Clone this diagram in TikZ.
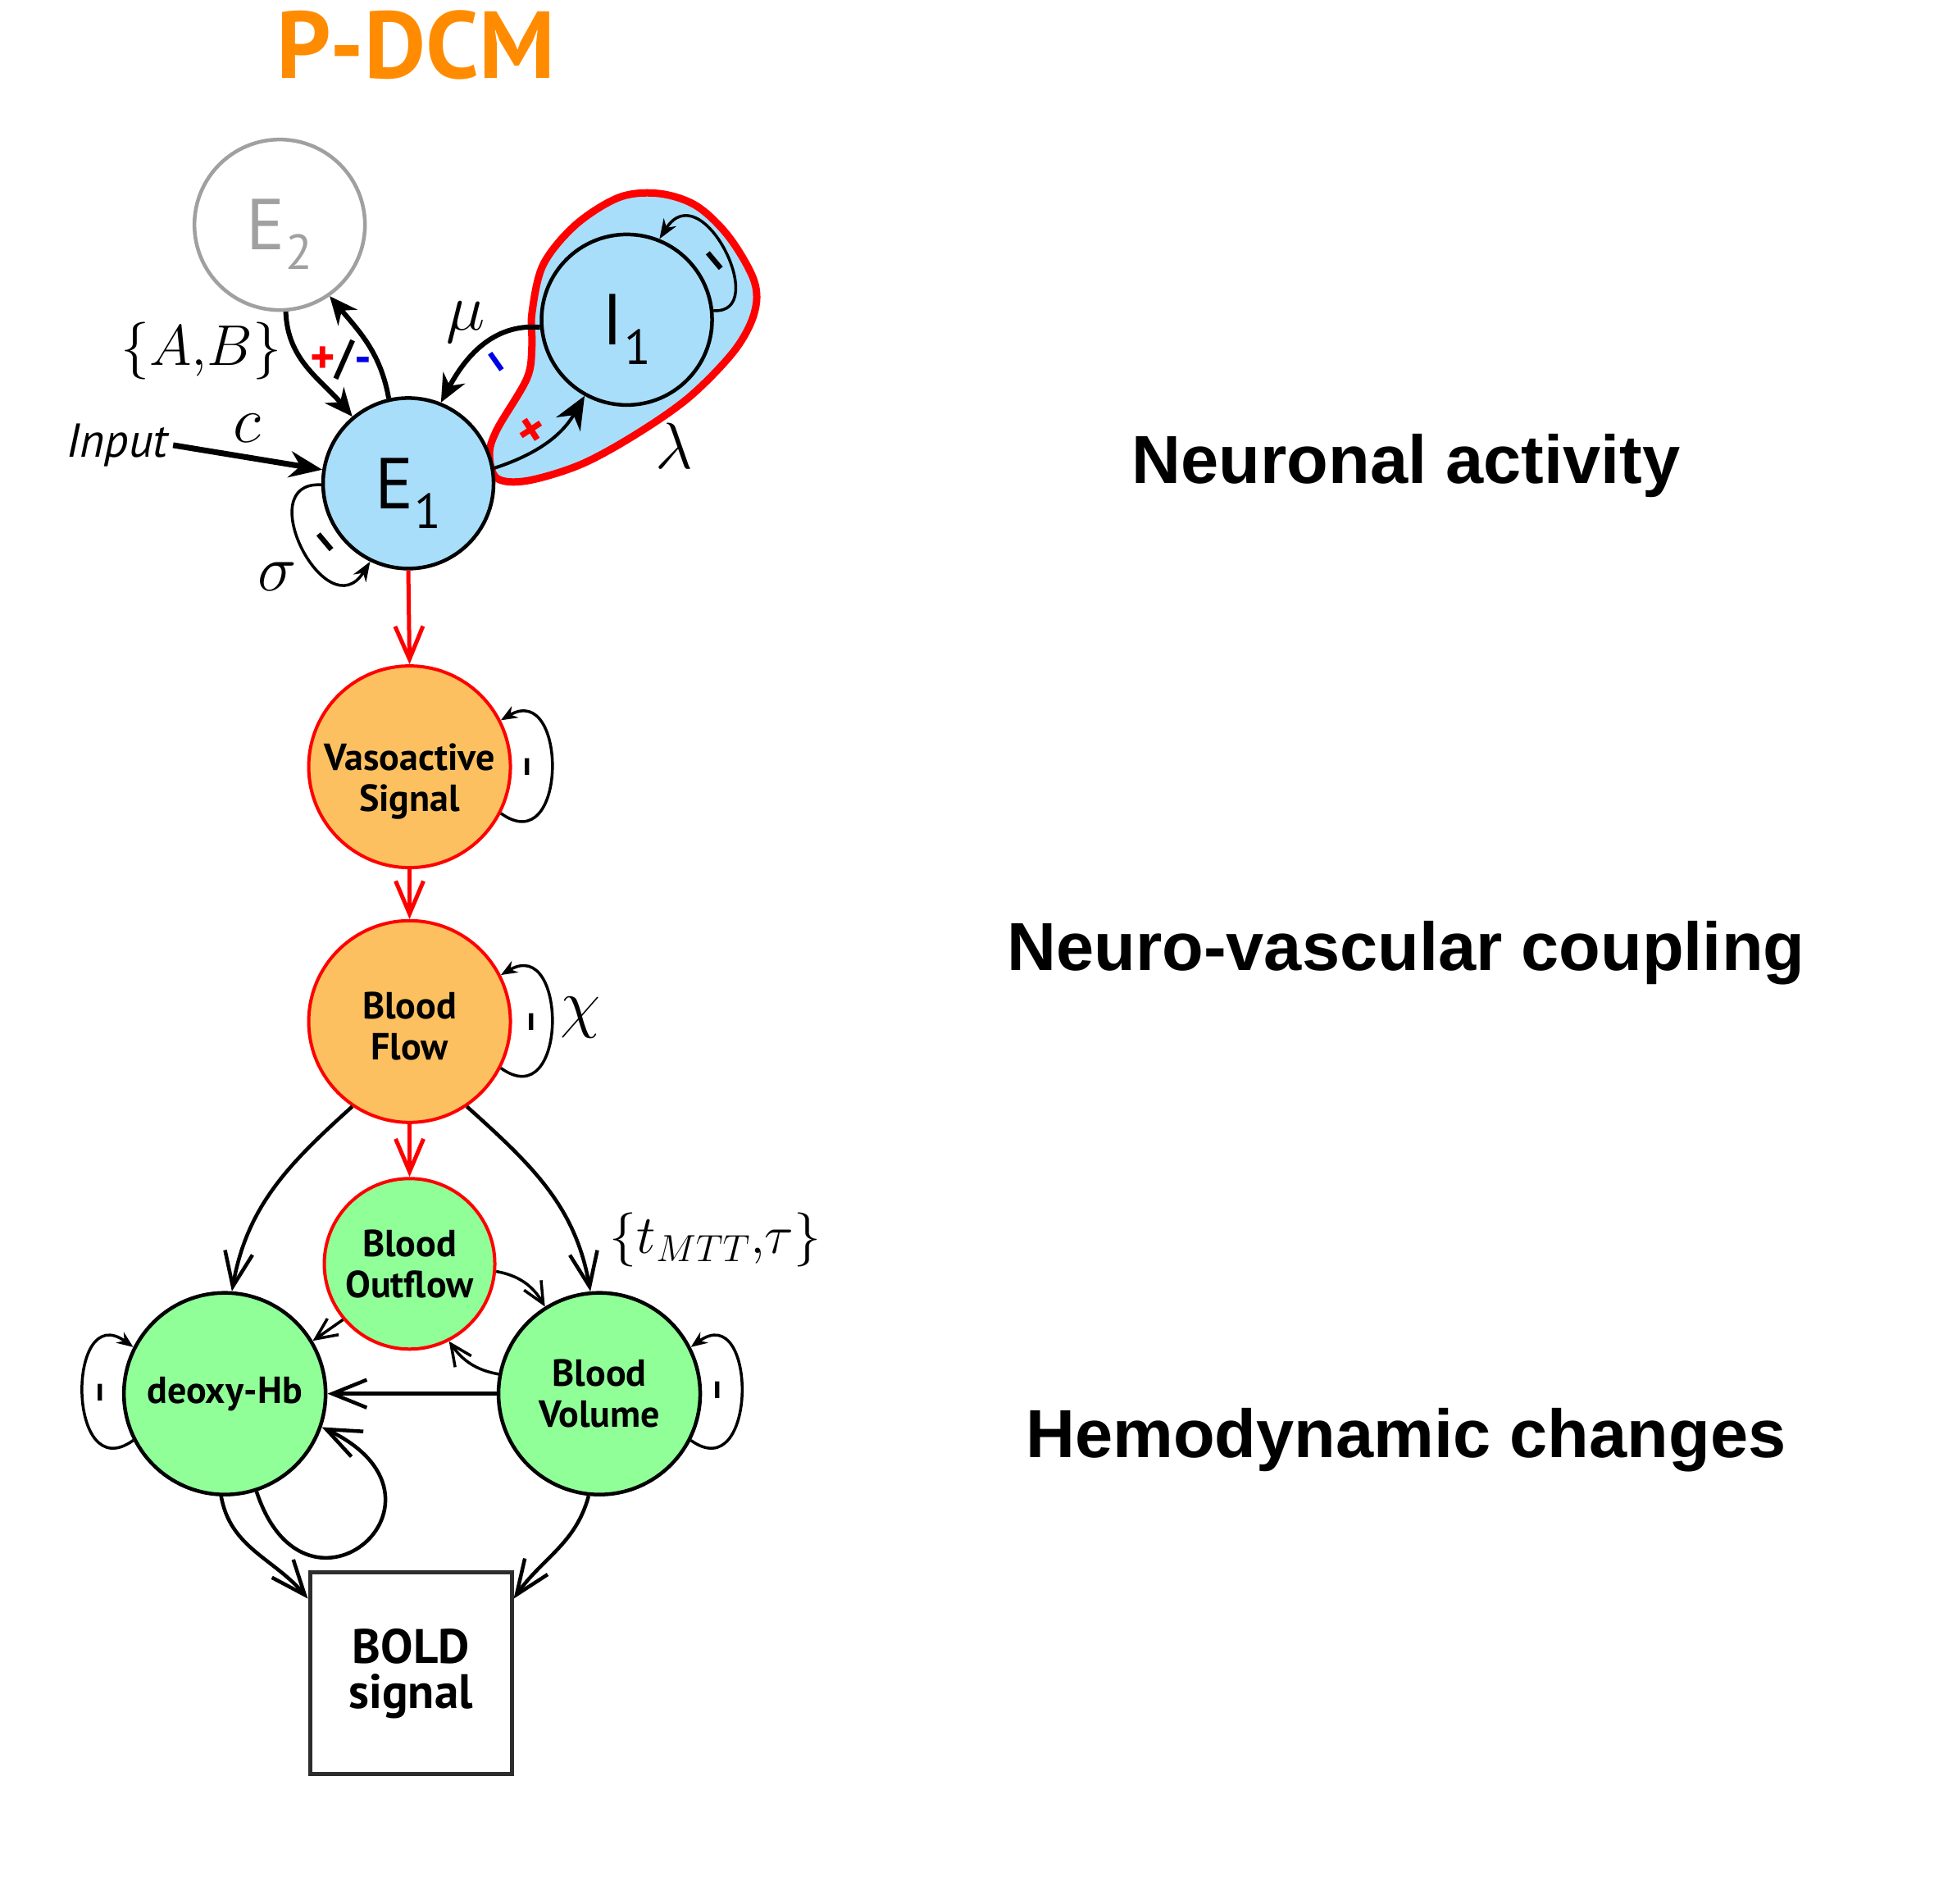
\RequirePackage{fix-cm}
\documentclass[tikz,border=0pt]{standalone}
\usepackage{fontspec}
\newfontfamily\pts{PT Sans}
\newfontfamily\libs{Liberation Sans}
\usetikzlibrary{arrows.meta}
\definecolor{nblue}{RGB}{168,222,250}
\definecolor{norange}{RGB}{253,192,96}
\definecolor{ngreen}{RGB}{144,255,152}
\definecolor{titleor}{RGB}{255,140,0}
\definecolor{egray}{RGB}{160,160,160}
\definecolor{boxgray}{RGB}{45,45,45}
\definecolor{minblue}{RGB}{0,0,230}
\definecolor{pred}{RGB}{255,0,0}
\newcommand{\fs}[1]{\fontsize{#1}{#1}\selectfont}
\newcommand{\sublab}[2]{#1\kern1pt\raisebox{-24pt}[0pt][0pt]{\fs{60}#2}}
\begin{document}
\begin{tikzpicture}[x=1.523pt,y=-1.523pt,
  neuron/.style={circle, draw=black, line width=4.5pt, fill=nblue, minimum size=208pt, inner sep=0pt, font=\pts\fs{88}},
  vasc/.style={circle, draw=pred, line width=4pt, fill=norange, minimum size=246pt, inner sep=0pt},
  vlab/.style={font=\pts\bfseries\fontsize{46}{50}\selectfont, align=center, inner sep=0pt},
  outfl/.style={circle, draw=pred, line width=4pt, fill=ngreen, minimum size=208pt, inner sep=0pt, align=center, font=\pts\bfseries\fontsize{46}{50}\selectfont},
  hemo/.style={circle, draw=black, line width=4.5pt, fill=ngreen, minimum size=246pt, inner sep=0pt, align=center, font=\pts\bfseries\fontsize{46}{50}\selectfont},
  boldbox/.style={rectangle, draw=boxgray, line width=5pt, fill=white, minimum size=246pt, inner sep=0pt, align=center, font=\pts\bfseries\fontsize{59}{55}\selectfont},
  thickarr/.style={line width=6pt, -{Stealth[length=34pt,width=30pt]}},
  medarr/.style={line width=4pt, -{Stealth[length=40pt,width=34pt]}},
  redarr/.style={draw=pred, line width=5pt, -{Straight Barb[length=40pt,width=34pt]}},
  hemarr/.style={line width=4.5pt, -{Straight Barb[length=42pt,width=34pt]}},
  hemsm/.style={line width=3.5pt, -{Straight Barb[length=26pt,width=24pt]}},
  loopsm/.style={line width=3.5pt, -{Stealth[length=20pt,width=16pt]}},
  dashmark/.style={font=\pts\bfseries\fs{56}, inner sep=0pt},
  barmark/.style={font=\pts\bfseries\fs{46}, inner sep=0pt, rotate=90},
  mlab/.style={font=\fs{80}, inner sep=0pt},
  sidelab/.style={font=\libs\bfseries\fs{83}, anchor=base}
]
\path[use as bounding box, fill=white] (0,0) rectangle (1567.3,1524);

% title
\node[font=\pts\bfseries\fs{116}, text=titleor, anchor=base] (title) at (333,63) {P-DCM};

% lambda region
\draw[pred, line width=9pt, fill=nblue] plot[smooth cycle, tension=0.55] coordinates {(398,383) (392,364) (398,344) (422,303) (426,277) (426,251) (435,212) (461,180) (496,158) (528,155) (558,165) (584,190) (604,225) (604,251) (588,281) (552,318) (509,348) (465,372) (422,385)};

% neuronal nodes
\node[neuron, draw=egray, fill=white, text=egray] (E2) at (224,180) {\sublab{E}{2}};
\node[neuron] (E1) at (327,387) {\sublab{E}{1}};
\node[neuron] (I1) at (502,256) {\sublab{I}{1}};

% hemodynamic nodes
\node[vasc, label={[vlab, yshift=-18pt, name=VSt]center:{Vasoactive\\Signal}}] (VS) at (328,614) {};
\node[vasc, label={[vlab, yshift=-6pt, name=BFt]center:{Blood\\Flow}}] (BF) at (328,818) {};
\node[outfl] (BO) at (328,1012) {Blood\\Outflow};
\node[hemo] (DH) at (180,1116) {deoxy-Hb};
\node[hemo] (BV) at (480,1116) {Blood\\Volume};
\node[boldbox] (BS) at (329,1340) {BOLD\\signal};

% labels
\node[font=\pts\itshape\fs{58}, anchor=base, inner sep=6pt] (inp) at (94,366) {Input};
\node[mlab] (cl) at (198,343) {$c$};
\node[font=\fs{70}, inner sep=0pt] (AB) at (161,281) {$\{A{,}B\}$};
\node[font=\pts\bfseries\fs{58}, inner sep=0pt] (pm) at (273,288) {\textcolor{pred}{+}/\textcolor{minblue}{-}};
\node[mlab] (mul) at (373,258) {$\mu$};
\node[mlab] (lal) at (540,357) {$\lambda$};
\node[mlab] (sil) at (222,462) {$\sigma$};
\node[mlab] (chil) at (465,815) {$\chi$};
\node[font=\fs{66}, inner sep=0pt] (tml) at (573,993) {$\{t_{MTT}{,}\tau\}$};

\node[sidelab] (na) at (1126,387) {Neuronal activity};
\node[sidelab] (nv) at (1126,777) {Neuro-vascular coupling};
\node[sidelab] (hc) at (1126,1167) {Hemodynamic changes};

% neuronal connectors
\draw[thickarr] (E2.-86) to[out=-88,in=130] (E1.130);
\draw[thickarr] (E1.103) to[out=100,in=-50] (E2.-55);
\draw[thickarr] (I1.185) to[out=175,in=62] (E1.68);
\draw[medarr] (E1.10) to[out=18,in=240] (I1.241);
\draw[line width=7pt, -{Stealth[length=40pt,width=32pt]}] (inp.east) -- (E1.171);
\draw[loopsm, -{Stealth[length=24pt,width=18pt]}] (E1.181) .. controls (200,385) and (262,505) .. (E1.244);
\draw[loopsm, -{Stealth[length=24pt,width=18pt]}] (I1.6) .. controls (618,252) and (562,138) .. (I1.68);

% sign marks
\node[dashmark, rotate=-50] (m1) at (569,212) {\textendash};
\node[dashmark, rotate=-50] (m2) at (257,437) {\textendash};
\node[dashmark, rotate=-55, text=minblue] (m3) at (394,292) {\textendash};
\node[font=\pts\bfseries\fs{64}, text=pred, rotate=33, inner sep=0pt] (p1) at (427,346) {+};

% red chain
\draw[redarr] (E1.south) -- (VS.north);
\draw[redarr] (VS.south) -- (BF.north);
\draw[redarr] (BF.south) -- (BO.north);

% self loops
\draw[loopsm] (VS.-27) .. controls (455,690) and (455,545) .. (VS.27);
\draw[loopsm] (BF.-27) .. controls (455,894) and (455,749) .. (BF.27);
\draw[loopsm] (BV.-27) .. controls (607,1192) and (607,1040) .. (BV.27);
\draw[loopsm] (DH.207) .. controls (53,1192) and (53,1040) .. (DH.153);
\node[barmark] (b1) at (426,614) {\textendash};
\node[barmark] (b2) at (429,818) {\textendash};
\node[barmark] (b3) at (84,1115) {\textendash};
\node[barmark] (b4) at (578,1113) {\textendash};

% hemodynamic connectors
\draw[hemarr] (BF.236) to[out=222,in=80] (DH.86);
\draw[hemarr] (BF.-56) to[out=-42,in=100] (BV.95);
\draw[hemsm] (BO.-5) to[out=-10,in=120] (BV.122);
\draw[hemsm] (BV.169) to[out=170,in=-55] (BO.-63);
\draw[hemsm] (BO.220) -- (DH.31);
\draw[hemarr] (BV.west) -- (DH.east);
\draw[hemarr] (DH.-92) to[out=-80,in=130] (BS.144);
\draw[hemarr] (BV.264) to[out=-105,in=55] (BS.36);
\draw[hemarr] (DH.-72) .. controls (245,1315) and (378,1200) .. (DH.-19);
\end{tikzpicture}
\end{document}
